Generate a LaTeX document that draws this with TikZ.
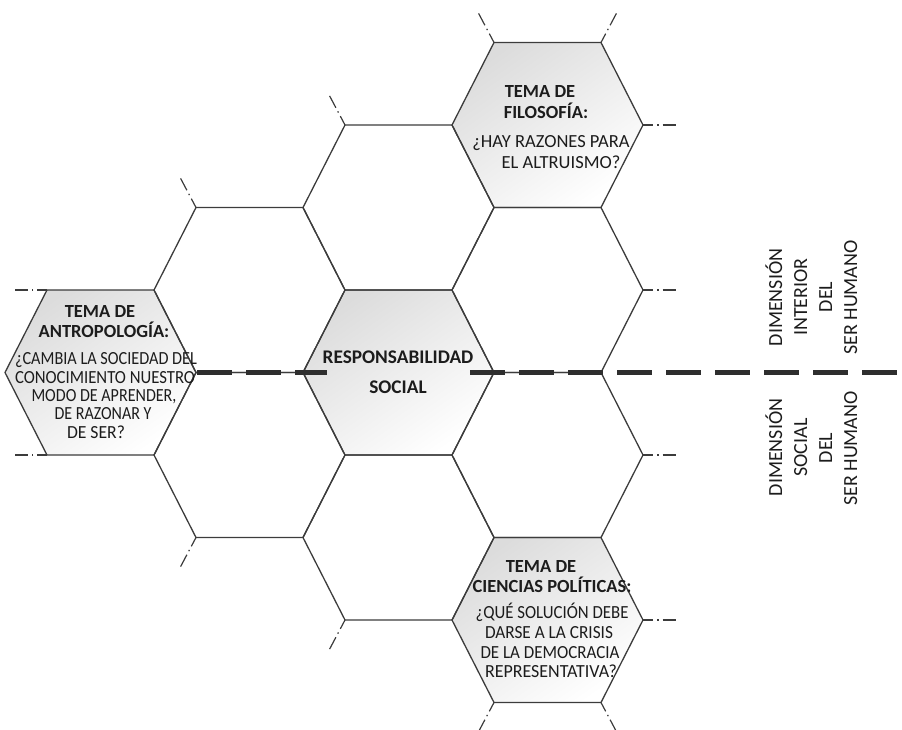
\documentclass[tikz,border=0pt]{standalone}
\usepackage{fontspec}
\setmainfont{Carlito}
\usepackage{graphicx}

\definecolor{hexedge}{HTML}{3C3C3C}
\definecolor{hextop}{HTML}{DCDCDC}
\definecolor{hexbottom}{HTML}{FFFFFF}
\definecolor{dividerink}{HTML}{2E2E2E}
\definecolor{txt}{HTML}{1C1C1C}

% set a line and squeeze it horizontally to a given width (in pt)
\newsavebox\linebox
\newcommand\fitto[2]{\sbox\linebox{#2}\pgfmathsetmacro\linescale{#1/\the\wd\linebox}\scalebox{\linescale}[1]{\usebox\linebox}}

% flat-topped hexagonal cell around a named centre
\newcommand\hexcell[2]{\path[#1,shift={(#2)}] (-95.5,0) -- (-53.5,-82.5) -- (53.5,-82.5) -- (95.5,0) -- (53.5,82.5) -- (-53.5,82.5) -- cycle;}

\begin{document}
\begin{tikzpicture}[x=1pt,y=-1pt,
  hexline/.style={draw=hexedge,line width=1.3pt,line join=miter},
  themefill/.style={top color=hextop,bottom color=hexbottom,shading angle=35},
  stub/.style={draw=hexedge,line width=1.2pt,dash pattern=on 10pt off 4pt on 1.5pt off 4pt on 14pt},
  divider/.style={draw=dividerink,line width=4.5pt,dash pattern=on 35pt off 14pt},
  ttl/.style={anchor=base,inner sep=0pt,text=txt,font=\bfseries\fontsize{18.5}{20}\selectfont},
  qst/.style={anchor=base,inner sep=0pt,text=txt,font=\fontsize{18.5}{20}\selectfont},
  core/.style={anchor=base,inner sep=0pt,text=txt,font=\bfseries\fontsize{19.3}{22}\selectfont},
  side/.style={anchor=base,inner sep=0pt,text=txt,rotate=90,font=\fontsize{20}{22}\selectfont}]
\useasboundingbox (0,0) rectangle (902,729);

% cell centres
\coordinate (hA)  at (100.5,372.5);
\coordinate (hB1) at (249.5,290);
\coordinate (hB2) at (249.5,455);
\coordinate (hC0) at (398.5,207.5);
\coordinate (hC1) at (398.5,372.5);
\coordinate (hC2) at (398.5,537.5);
\coordinate (hD0) at (547.5,125);
\coordinate (hD1) at (547.5,290);
\coordinate (hD2) at (547.5,455);
\coordinate (hD3) at (547.5,620);

% shaded theme cells
\foreach \h in {hA,hC1,hD0,hD3} {\hexcell{themefill}{\h}}
% honeycomb outlines
\foreach \h in {hA,hB1,hB2,hC0,hC1,hC2,hD0,hD1,hD2,hD3} {\hexcell{hexline}{\h}}

% dash-dot stubs at the open vertices
\draw[stub] (hB1) ++(-53.5,-82.5) -- ++(-15.4,-29.1);
\draw[stub] (hC0) ++(-53.5,-82.5) -- ++(-15.4,-29.1);
\draw[stub] (hD0) ++(-53.5,-82.5) -- ++(-15.4,-29.1);
\draw[stub] (hD0) ++(53.5,-82.5) -- ++(15.4,-29.1);
\draw[stub] (hD0) ++(95.5,0) -- ++(33,0);
\draw[stub] (hD1) ++(95.5,0) -- ++(33,0);
\draw[stub] (hD2) ++(95.5,0) -- ++(33,0);
\draw[stub] (hD3) ++(95.5,0) -- ++(33,0);
\draw[stub] (hD3) ++(53.5,82.5) -- ++(15.4,29.1);
\draw[stub] (hD3) ++(-53.5,82.5) -- ++(-15.4,29.1);
\draw[stub] (hC2) ++(-53.5,82.5) -- ++(-15.4,29.1);
\draw[stub] (hB2) ++(-53.5,82.5) -- ++(-15.4,29.1);
\draw[stub] (hA) ++(-53.5,-82.5) -- ++(-32,0);
\draw[stub] (hA) ++(-53.5,82.5) -- ++(-32,0);

% dividing line between the two dimensions
\coordinate (divL)  at (197,372.5);
\coordinate (divLe) at (327,372.5);
\coordinate (divR)  at (470,372.5);
\coordinate (divRe) at (902,372.5);
\draw[divider] (divL) -- (divLe);
\draw[divider] (divR) -- (divRe);

% centre
\node[core] (resp1) at (398,363) {RESPONSABILIDAD};
\node[core] (resp2) at (398,393) {SOCIAL};

% anthropology
\node[ttl] (ant1) at (100,317) {TEMA DE};
\node[ttl] (ant2) at (104,337) {ANTROPOLOGÍA:};
\node[qst] (ant3) at (106,364) {\fitto{182}{¿CAMBIA LA SOCIEDAD DEL}};
\node[qst] (ant4) at (105,383) {\fitto{180}{CONOCIMIENTO NUESTRO}};
\node[qst] (ant5) at (104,401) {\fitto{145}{MODO DE APRENDER,}};
\node[qst] (ant6) at (103,419) {\fitto{97}{DE RAZONAR Y}};
\node[qst] (ant7) at (96,438) {\fitto{58}{DE SER?}};

% philosophy
\node[ttl] (fil1) at (540,97) {TEMA DE};
\node[ttl] (fil2) at (546,118) {FILOSOFÍA:};
\node[qst] (fil3) at (551,147) {¿HAY RAZONES PARA};
\node[qst] (fil4) at (561,168) {EL ALTRUISMO?};

% political science
\node[ttl] (pol1) at (541,572) {TEMA DE};
\node[ttl] (pol2) at (552,592) {CIENCIAS POLÍTICAS:};
\node[qst] (pol3) at (552,618) {\fitto{153}{¿QUÉ SOLUCIÓN DEBE}};
\node[qst] (pol4) at (549,638) {\fitto{128}{DARSE A LA CRISIS}};
\node[qst] (pol5) at (550,658) {\fitto{139}{DE LA DEMOCRACIA}};
\node[qst] (pol6) at (551,677) {\fitto{132}{REPRESENTATIVA?}};

% side labels
\node[side] (in1) at (782,297.5) {DIMENSIÓN};
\node[side] (in2) at (807,297) {INTERIOR};
\node[side] (in3) at (832,297) {DEL};
\node[side] (in4) at (857,297.5) {SER HUMANO};
\node[side] (so1) at (782,447.5) {DIMENSIÓN};
\node[side] (so2) at (807,447.5) {SOCIAL};
\node[side] (so3) at (832,448) {DEL};
\node[side] (so4) at (857,448.5) {SER HUMANO};
\end{tikzpicture}
\end{document}
